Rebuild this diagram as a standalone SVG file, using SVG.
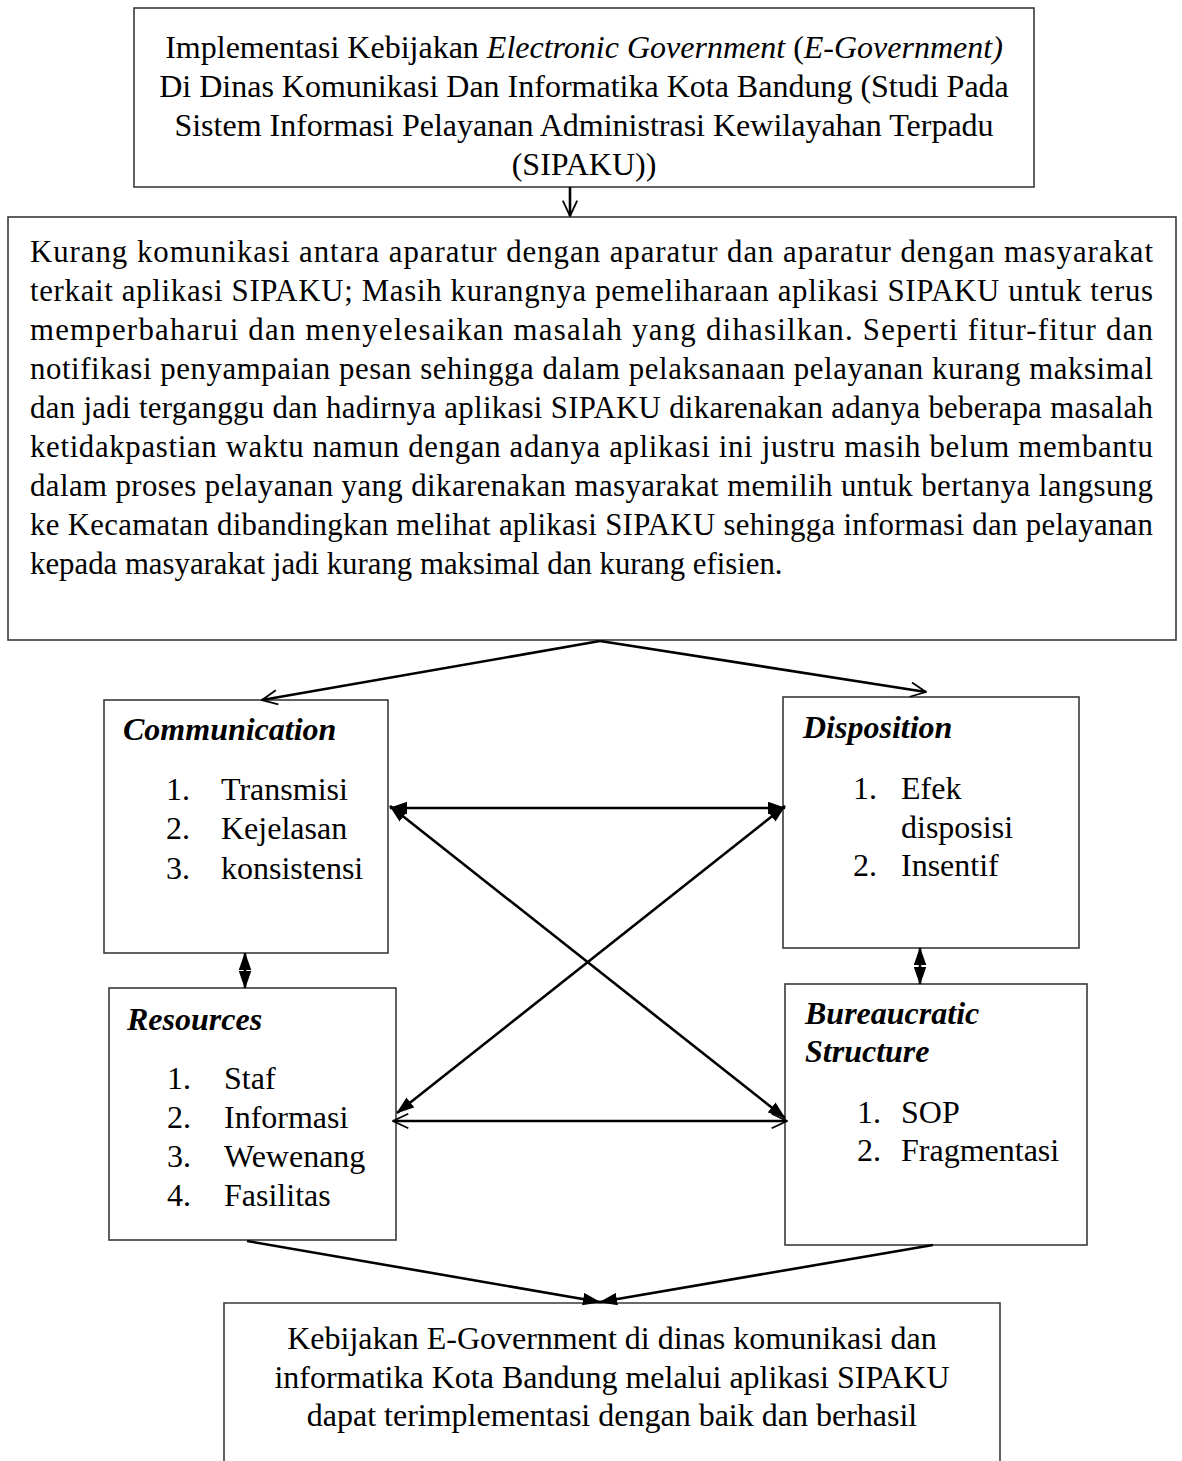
<svg xmlns="http://www.w3.org/2000/svg" width="1182" height="1461" viewBox="0 0 1182 1461">
<style>
text{font-family:"Liberation Serif","Times New Roman",serif;fill:#000;}
.t{font-size:32px;}
.p{font-size:30.8px;}
.h{font-size:32px;font-weight:bold;font-style:italic;}
.i{font-style:italic;}
.box{fill:#fff;stroke:#3a3a3a;stroke-width:1.6;}
.c{fill:none;stroke:#000;stroke-width:2.6;}
</style>
<defs>
<marker id="open" viewBox="0 0 20 20" refX="19" refY="10" markerWidth="18" markerHeight="18" markerUnits="userSpaceOnUse" orient="auto-start-reverse">
<path d="M2,2 L19,10 L2,18" fill="none" stroke="#000" stroke-width="2"/>
</marker>
<marker id="fill" viewBox="0 0 20 14" refX="19" refY="7" markerWidth="18" markerHeight="13" markerUnits="userSpaceOnUse" orient="auto-start-reverse">
<path d="M0,0 L20,7 L0,14 z" fill="#000"/>
</marker>
</defs>
<rect width="1182" height="1461" fill="#fff"/>

<g id="title">
<rect class="box" x="134" y="8" width="900" height="179"/>
<text class="t" x="584" y="58" text-anchor="middle">Implementasi Kebijakan <tspan class="i">Electronic Government</tspan> (<tspan class="i">E-Government)</tspan></text>
<text class="t" x="584" y="97" text-anchor="middle">Di Dinas Komunikasi Dan Informatika Kota Bandung (Studi Pada</text>
<text class="t" x="584" y="136" text-anchor="middle">Sistem Informasi Pelayanan Administrasi Kewilayahan Terpadu</text>
<text class="t" x="584" y="175" text-anchor="middle">(SIPAKU))</text>
</g>

<g id="problem">
<rect class="box" x="8" y="217" width="1168" height="423"/>
<text class="p" x="30" y="262" textLength="1123" lengthAdjust="spacing">Kurang komunikasi antara aparatur dengan aparatur dan aparatur dengan masyarakat</text>
<text class="p" x="30" y="301" textLength="1123" lengthAdjust="spacing">terkait aplikasi SIPAKU; Masih kurangnya pemeliharaan aplikasi SIPAKU untuk terus</text>
<text class="p" x="30" y="340" textLength="1123" lengthAdjust="spacing">memperbaharui dan menyelesaikan masalah yang dihasilkan. Seperti fitur-fitur dan</text>
<text class="p" x="30" y="379" textLength="1123" lengthAdjust="spacing">notifikasi penyampaian pesan sehingga dalam pelaksanaan pelayanan kurang maksimal</text>
<text class="p" x="30" y="418" textLength="1123" lengthAdjust="spacing">dan jadi terganggu dan hadirnya aplikasi SIPAKU dikarenakan adanya beberapa masalah</text>
<text class="p" x="30" y="457" textLength="1123" lengthAdjust="spacing">ketidakpastian waktu namun dengan adanya aplikasi ini justru masih belum membantu</text>
<text class="p" x="30" y="496" textLength="1123" lengthAdjust="spacing">dalam proses pelayanan yang dikarenakan masyarakat memilih untuk bertanya langsung</text>
<text class="p" x="30" y="535" textLength="1123" lengthAdjust="spacing">ke Kecamatan dibandingkan melihat aplikasi SIPAKU sehingga informasi dan pelayanan</text>
<text class="p" x="30" y="574">kepada masyarakat jadi kurang maksimal dan kurang efisien.</text>
</g>

<g id="communication">
<rect class="box" x="104" y="700" width="284" height="253"/>
<text class="h" x="123" y="740">Communication</text>
<text class="t" x="166" y="800">1.</text><text class="t" x="221" y="800">Transmisi</text>
<text class="t" x="166" y="839">2.</text><text class="t" x="221" y="839">Kejelasan</text>
<text class="t" x="166" y="879">3.</text><text class="t" x="221" y="879">konsistensi</text>
</g>

<g id="disposition">
<rect class="box" x="783" y="697" width="296" height="251"/>
<text class="h" x="803" y="738">Disposition</text>
<text class="t" x="853" y="799">1.</text><text class="t" x="901" y="799">Efek</text>
<text class="t" x="901" y="838">disposisi</text>
<text class="t" x="853" y="876">2.</text><text class="t" x="901" y="876">Insentif</text>
</g>

<g id="resources">
<rect class="box" x="109" y="988" width="287" height="252"/>
<text class="h" x="127" y="1030">Resources</text>
<text class="t" x="167" y="1089">1.</text><text class="t" x="224" y="1089">Staf</text>
<text class="t" x="167" y="1128">2.</text><text class="t" x="224" y="1128">Informasi</text>
<text class="t" x="167" y="1167">3.</text><text class="t" x="224" y="1167">Wewenang</text>
<text class="t" x="167" y="1206">4.</text><text class="t" x="224" y="1206">Fasilitas</text>
</g>

<g id="bureaucratic">
<rect class="box" x="785" y="984" width="302" height="261"/>
<text class="h" x="805" y="1024">Bureaucratic</text>
<text class="h" x="805" y="1062">Structure</text>
<text class="t" x="857" y="1123">1.</text><text class="t" x="901" y="1123">SOP</text>
<text class="t" x="857" y="1161">2.</text><text class="t" x="901" y="1161">Fragmentasi</text>
</g>

<g id="result">
<path class="box" d="M224,1470 L224,1303 L1000,1303 L1000,1470" fill="#fff"/>
<text class="t" x="612" y="1349" text-anchor="middle">Kebijakan E-Government di dinas komunikasi dan</text>
<text class="t" x="612" y="1388" text-anchor="middle">informatika Kota Bandung melalui aplikasi SIPAKU</text>
<text class="t" x="612" y="1426" text-anchor="middle">dapat terimplementasi dengan baik dan berhasil</text>
</g>

<g id="connectors">
<path class="c" stroke-width="1.8" d="M570,187 L570,216" marker-end="url(#open)"/>
<path class="c" d="M600,641 L262,700" marker-end="url(#open)"/>
<path class="c" d="M600,641 L926,692" marker-end="url(#open)"/>
<path class="c" d="M390,808 L785,808" marker-start="url(#fill)" marker-end="url(#fill)"/>
<path class="c" d="M390,806 L785,1118" marker-start="url(#fill)" marker-end="url(#fill)"/>
<path class="c" d="M785,806 L397,1113" marker-start="url(#fill)" marker-end="url(#fill)"/>
<path class="c" d="M393,1121 L787,1121" marker-start="url(#open)" marker-end="url(#open)"/>
<path class="c" d="M245,953 L245,988" marker-start="url(#fill)" marker-end="url(#fill)"/>
<path class="c" d="M920,948 L920,984" marker-start="url(#fill)" marker-end="url(#fill)"/>
<path class="c" d="M247,1241 L600,1302" marker-end="url(#fill)"/>
<path class="c" d="M933,1245 L600,1302" marker-end="url(#fill)"/>
</g>
</svg>
